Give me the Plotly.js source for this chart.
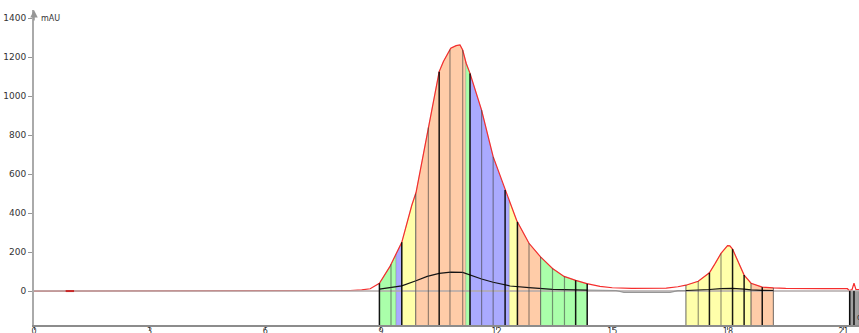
<!DOCTYPE html>
<html>
<head>
<meta charset="utf-8">
<script src="https://cdn.plot.ly/plotly-3.0.1.min.js"></script>
<style>
  html, body { margin: 0; padding: 0; background: #fff; }
  #chart { width: 859px; height: 333px; }
</style>
</head>
<body>
<div id="chart"></div>
<script>
// UV absorbance trace (mAU) against retention time (min)
const uvTime = [0, 7.9, 8.2, 8.5, 8.72, 8.96, 9.23, 9.54, 9.80, 9.91, 10.20, 10.51, 10.62, 10.81, 10.95, 11.05,
  11.12, 11.21, 11.31, 11.61, 11.91, 12.22, 12.35, 12.52, 12.84, 13.14, 13.45, 13.75, 14.05, 14.34, 14.68,
  15.0, 15.5, 16.0, 16.4, 16.7, 16.91, 17.23, 17.52, 17.67, 17.82, 17.99, 18.05, 18.12, 18.31, 18.42, 18.60,
  18.89, 19.18, 19.5, 20.5, 21.1, 21.15, 21.22, 21.27, 21.32, 21.4];
const uvMAU = [0, 0, 3, 6, 12, 40, 125, 250, 440, 505, 808, 1125, 1177, 1245, 1258, 1262,
  1236, 1168, 1116, 928, 689, 518, 450, 362, 245, 175, 116, 75, 55, 38, 24,
  17, 14, 13, 15, 22, 30, 50, 94, 142, 193, 233, 232, 215, 125, 82, 40,
  20, 16, 14, 13, 12, 2, 8, 40, 8, 8];

// Secondary signal (dark trace) across the collected fractions
const sigTime = [8.96, 9.23, 9.54, 9.91, 10.2, 10.51, 10.81, 11.12, 11.31, 11.61, 11.91, 12.22, 12.35, 12.84,
  13.14, 13.45, 14.05, 14.35, null, 16.91, 17.23, 17.52, 17.82, 18.0, 18.12, 18.42, 18.60, 18.89, 19.18];
const sigValue = [10, 18, 27, 53, 75, 91, 97, 96, 82, 62, 45, 32, 26, 18,
  12, 9, 6, 5, null, 3, 5, 8, 13, 15, 14, 10, 6, 4, 3];
// Same signal between the two fraction windows
const gapTime = [14.35, 15.1, 15.3, 16.5, 16.7, 16.91];
const gapValue = [5, 3, -7, -7, 2, 3];

// Pooled fraction zones: start, end, colour group
const zoneStart = [8.96, 9.39, 9.54, 9.90, 11.20, 11.31, 12.33, 12.54, 13.14, 16.91, 18.60, 21.14];
const zoneEnd   = [9.39, 9.54, 9.90, 11.20, 11.31, 12.33, 12.54, 13.14, 14.35, 18.60, 19.18, 21.40];
const zoneGroup = ["green", "blue", "yellow", "salmon", "green", "blue", "yellow", "salmon", "green", "yellow", "salmon", "waste"];

// Fraction cut marks (min) and whether each is a heavy mark
const cutTime = [8.96, 9.26, 9.54, 9.90, 10.23, 10.51, 10.79, 11.12, 11.31, 11.61, 11.91, 12.22, 12.54, 12.84,
  13.14, 13.45, 13.76, 14.05, 14.35, 16.91, 17.23, 17.52, 17.82, 18.12, 18.42, 18.60, 18.89, 19.18, 21.16, 21.27];
const cutHeavy = [1, 0, 1, 0, 0, 1, 0, 0, 1, 0, 0, 1, 1, 0,
  0, 0, 0, 1, 1, 0, 0, 1, 0, 1, 1, 0, 1, 0, 1, 1];

// Injection mark
const injectTime = [0.93];
const injectMAU = [0];

const xTicks = [0, 3, 6, 9, 12, 15, 18, 21];
const yTicks = [0, 200, 400, 600, 800, 1000, 1200, 1400];

const X_RANGE = [0, 21.4];
const Y_RANGE = [-174, 1441];
const FLOOR = Y_RANGE[0];

const groupColor = {
  green: "rgb(170,255,170)",
  blue: "rgb(170,170,255)",
  yellow: "rgb(255,255,170)",
  salmon: "rgb(255,204,168)",
  waste: "rgb(160,160,160)"
};

// linear lookup on the UV trace
function uvAt(t) {
  for (let i = 0; i < uvTime.length - 1; i++) {
    if (t >= uvTime[i] && t <= uvTime[i + 1]) {
      const f = (t - uvTime[i]) / (uvTime[i + 1] - uvTime[i]);
      return uvMAU[i] + f * (uvMAU[i + 1] - uvMAU[i]);
    }
  }
  return 0;
}

const traces = [];

// shaded fraction zones from the floor up to the UV trace
zoneStart.forEach((a, k) => {
  const b = zoneEnd[k];
  const g = zoneGroup[k];
  const xs = [a], ys = [FLOOR];
  if (g === "waste") {
    xs.push(a, b); ys.push(0, 0);
  } else {
    xs.push(a); ys.push(uvAt(a));
    uvTime.forEach((t, i) => { if (t > a && t < b) { xs.push(t); ys.push(uvMAU[i]); } });
    xs.push(b); ys.push(uvAt(b));
  }
  xs.push(b); ys.push(FLOOR);
  traces.push({
    x: xs, y: ys, type: "scatter", mode: "lines", fill: "toself",
    fillcolor: groupColor[g], line: { width: 0.6, color: "rgba(90,90,90,0.35)" },
    hoverinfo: "skip", showlegend: false
  });
});

// UV trace
traces.push({
  x: uvTime, y: uvMAU, type: "scatter", mode: "lines",
  line: { color: "rgb(245,45,45)", width: 1.2 }, hoverinfo: "skip", showlegend: false
});

// zero reference
traces.push({
  x: X_RANGE, y: [0, 0], type: "scatter", mode: "lines",
  line: { color: "rgb(178,170,170)", width: 1.6 }, hoverinfo: "skip", showlegend: false
});

traces.push({
  x: gapTime, y: gapValue, type: "scatter", mode: "lines",
  line: { color: "rgb(150,150,150)", width: 1.2 }, hoverinfo: "skip", showlegend: false
});
traces.push({
  x: sigTime, y: sigValue, type: "scatter", mode: "lines", connectgaps: false,
  line: { color: "rgb(20,20,20)", width: 1.2 }, hoverinfo: "skip", showlegend: false
});

// fraction cut marks
function cutTrace(heavy, color, width) {
  const xs = [], ys = [];
  cutTime.forEach((t, i) => {
    if (cutHeavy[i] === heavy) {
      const top = t > 21 ? 0 : uvAt(t);
      xs.push(t, t, null); ys.push(FLOOR, top, null);
    }
  });
  return { x: xs, y: ys, type: "scatter", mode: "lines", line: { color: color, width: width },
    hoverinfo: "skip", showlegend: false };
}
traces.push(cutTrace(0, "rgba(60,60,60,0.55)", 1.2));
traces.push(cutTrace(1, "rgba(0,0,0,0.9)", 1.5));

traces.push({
  x: injectTime, y: injectMAU, type: "scatter", mode: "markers",
  marker: { symbol: "line-ew", size: 6, line: { color: "rgb(200,40,40)", width: 2 } },
  hoverinfo: "skip", showlegend: false
});

const layout = {
  width: 859, height: 333,
  margin: { l: 34, r: 0, t: 10, b: 8 },
  paper_bgcolor: "#fff", plot_bgcolor: "#fff",
  showlegend: false,
  xaxis: {
    range: X_RANGE, tickvals: xTicks, ticktext: xTicks.map(String),
    showgrid: false, zeroline: false, showline: true, linecolor: "rgb(140,140,140)", linewidth: 2,
    ticks: "outside", ticklen: 3, tickcolor: "rgb(120,120,120)", ticklabelstandoff: -6,
    tickfont: { family: "DejaVu Sans", size: 8, color: "#333" }
  },
  yaxis: {
    range: Y_RANGE, tickvals: yTicks, ticktext: yTicks.map(String),
    showgrid: false, zeroline: false, showline: true, linecolor: "rgb(170,170,170)", linewidth: 2,
    ticks: "outside", ticklen: 4, tickcolor: "rgb(150,150,150)",
    tickfont: { family: "DejaVu Sans", size: 9, color: "#333" }
  },
  annotations: [
    { xref: "paper", yref: "paper", x: 0, y: 1, ax: 0, ay: 12, text: "", showarrow: true,
      arrowhead: 2, arrowsize: 1, arrowwidth: 1.5, arrowcolor: "rgb(150,150,150)" },
    { xref: "paper", yref: "y", x: 0, y: 1400, xanchor: "left", xshift: 5, text: "mAU", showarrow: false,
      font: { family: "DejaVu Sans", size: 8, color: "#333" } },
    { xref: "x", yref: "y", x: 21.3, y: -140, xanchor: "left", text: "C", showarrow: false,
      font: { family: "DejaVu Sans", size: 7, color: "#333" } }
  ]
};

Plotly.newPlot("chart", traces, layout, { staticPlot: true, displayModeBar: false });
</script>
</body>
</html>
